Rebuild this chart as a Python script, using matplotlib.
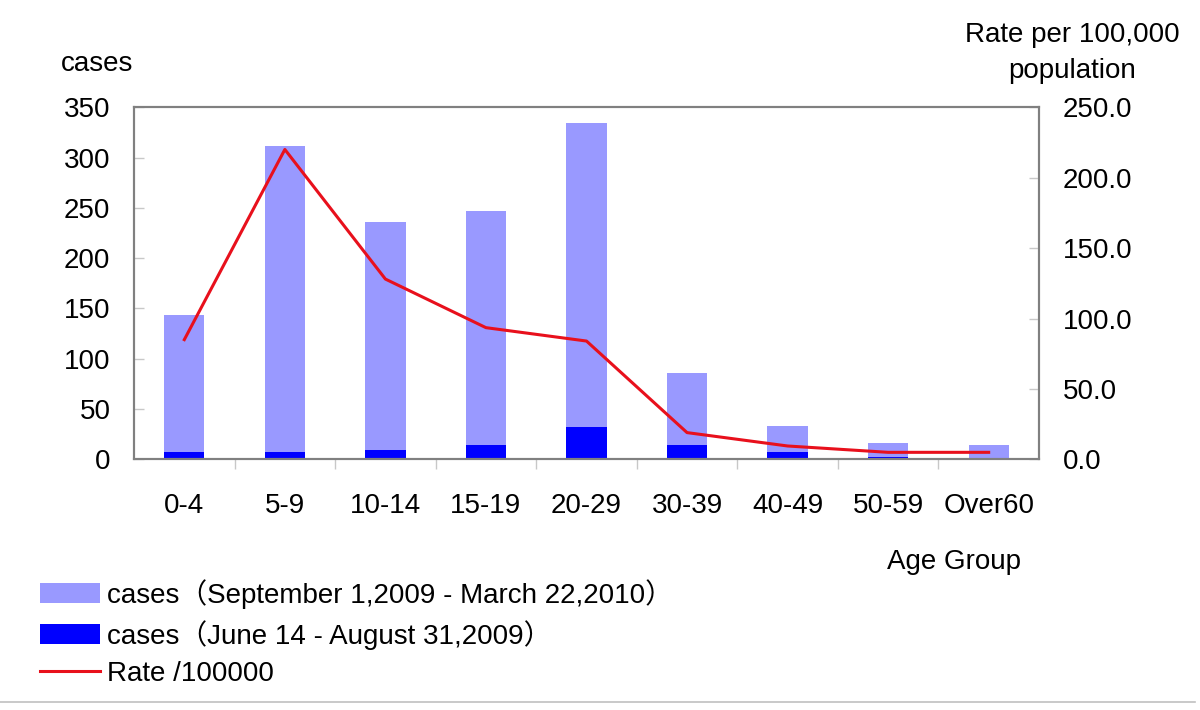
import numpy as np
import matplotlib.pyplot as plt
from matplotlib.patches import Patch
from matplotlib.lines import Line2D

plt.rcParams['font.family'] = ['Liberation Sans', 'Noto Sans CJK SC', 'DejaVu Sans']

# data
ageGroups = ['0-4', '5-9', '10-14', '15-19', '20-29', '30-39', '40-49', '50-59', 'Over60']
casesSummer = [7, 7, 9, 14, 32, 14, 7, 2, 0]             # June 14 - August 31, 2009
casesWinter = [136, 304, 227, 233, 302, 72, 26, 14, 14]  # September 1, 2009 - March 22, 2010
ratePer100k = [85, 220, 128, 93.5, 84, 19, 9.5, 5, 5]

leftTicks = [0, 50, 100, 150, 200, 250, 300, 350]
rightTicks = [0, 50, 100, 150, 200, 250]

lightBlue = '#9999ff'
darkBlue = '#0000ff'
spineGray = '#808080'
tickGray = '#c8c8c8'
fs = 20

fig = plt.figure(figsize=(12, 7.1), dpi=100)
ax = fig.add_axes([0.1117, 0.353, 0.7541, 0.496])
x = np.arange(len(ageGroups))

ax.bar(x, casesSummer, width=0.4, color=darkBlue, zorder=2)
ax.bar(x, casesWinter, width=0.4, bottom=casesSummer, color=lightBlue, zorder=2)

ax.set_xlim(-0.5, len(ageGroups) - 0.5)
ax.set_ylim(0, 350)
ax.set_yticks(leftTicks)
ax.set_yticklabels([str(t) for t in leftTicks], fontsize=fs)
ax.set_xticks(x)
ax.set_xticklabels(ageGroups, fontsize=fs)
ax.set_xticks(np.arange(0.5, len(ageGroups) - 0.5), minor=True)
ax.tick_params(axis='x', which='major', length=0, pad=24)
ax.tick_params(axis='x', which='minor', length=7, width=1, color=tickGray, direction='out')
ax.tick_params(axis='y', which='major', length=7, width=1, color=tickGray, direction='in', pad=17)

for side in ['left', 'right', 'top', 'bottom']:
    ax.spines[side].set_color(spineGray)
    ax.spines[side].set_linewidth(1.5)

ax2 = ax.twinx()
ax2.plot(x, ratePer100k, color='#e8101c', linewidth=2.2, zorder=3)
ax2.set_ylim(0, 250)
ax2.set_yticks(rightTicks)
ax2.set_yticklabels(['%.1f' % t for t in rightTicks], fontsize=fs)
ax2.tick_params(axis='y', length=7, width=1, color=tickGray, direction='in', pad=17)
for side in ['left', 'right', 'top', 'bottom']:
    ax2.spines[side].set_color(spineGray)
    ax2.spines[side].set_linewidth(1.5)

# axis titles
fig.text(97 / 1200, 1 - 64 / 710, 'cases', fontsize=fs, ha='center', va='center')
fig.text(1072 / 1200, 1 - 53 / 710, 'Rate per 100,000\npopulation', fontsize=fs,
         ha='center', va='center', linespacing=1.45)
fig.text(954 / 1200, 1 - 562 / 710, 'Age Group', fontsize=fs, ha='center', va='center')

handles = [Patch(facecolor=lightBlue, edgecolor='none'),
           Patch(facecolor=darkBlue, edgecolor='none'),
           Line2D([0], [0], color='#e8101c', linewidth=2.2)]
labels = ['cases（September 1,2009 - March 22,2010）',
          'cases（June 14 - August 31,2009）',
          'Rate /100000']
fig.legend(handles, labels, loc='upper left', bbox_to_anchor=(40 / 1200, 1 - 579 / 710),
           frameon=False, fontsize=fs, handlelength=2.15, handleheight=0.7,
           handletextpad=0.25, labelspacing=0.4, borderpad=0, borderaxespad=0)

# thin gray rule at the bottom
fig.add_artist(Line2D([0, 0.996], [1 - 701.5 / 710, 1 - 701.5 / 710],
                      color='#c0c0c0', linewidth=1.2, transform=fig.transFigure))

fig.savefig('out.png', dpi=100)
